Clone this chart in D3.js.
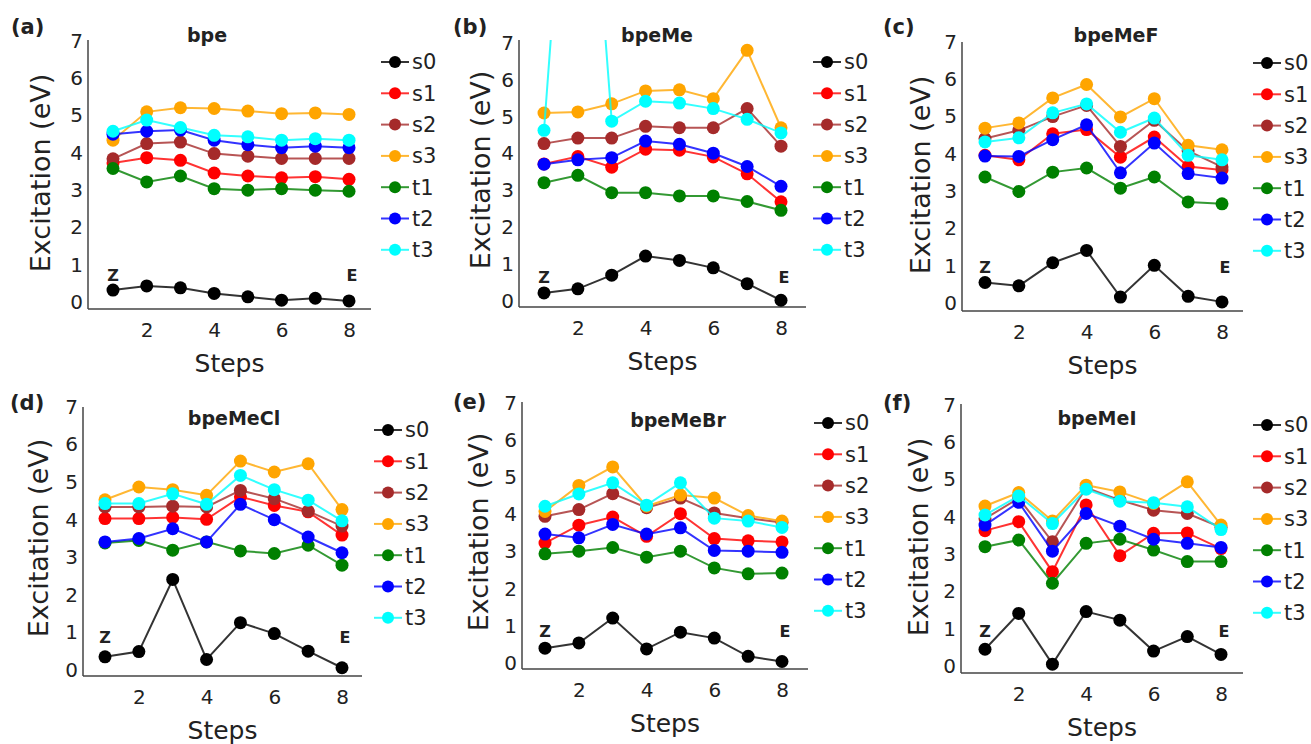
<!DOCTYPE html>
<html>
<head>
<meta charset="utf-8">
<script src="https://cdn.jsdelivr.net/npm/d3@7"></script>
<style>
  body { margin: 0; background: #fff; }
  svg text { font-family: "DejaVu Sans", Verdana, sans-serif; fill: #222; }
</style>
</head>
<body>
<div id="container"></div>
<script>
// data
const steps = [1, 2, 3, 4, 5, 6, 7, 8];
const seriesNames = ["s0", "s1", "s2", "s3", "t1", "t2", "t3"];
const seriesColors = ["#000000", "#ff0000", "#a52a2a", "#ffa500", "#008000", "#0000ff", "#00ffff"];
const panelTitles = ["bpe", "bpeMe", "bpeMeF", "bpeMeCl", "bpeMeBr", "bpeMeI"];
const panelTags = ["(a)", "(b)", "(c)", "(d)", "(e)", "(f)"];
const yTicks = [0, 1, 2, 3, 4, 5, 6, 7];
const xTicks = [2, 4, 6, 8];

// rows: s0, s1, s2, s3, t1, t2, t3
const bpe = [
  [0.32, 0.43, 0.38, 0.23, 0.14, 0.05, 0.10, 0.03],
  [3.73, 3.87, 3.80, 3.46, 3.38, 3.33, 3.36, 3.29],
  [3.84, 4.25, 4.29, 3.98, 3.91, 3.85, 3.85, 3.85],
  [4.34, 5.10, 5.21, 5.19, 5.12, 5.05, 5.07, 5.03],
  [3.58, 3.22, 3.38, 3.04, 3.00, 3.04, 3.00, 2.97],
  [4.50, 4.58, 4.61, 4.34, 4.22, 4.14, 4.18, 4.14],
  [4.58, 4.88, 4.68, 4.47, 4.43, 4.34, 4.38, 4.34]
];
const bpeMe = [
  [0.22, 0.33, 0.70, 1.22, 1.10, 0.90, 0.47, 0.02],
  [3.72, 3.92, 3.63, 4.12, 4.09, 3.91, 3.45, 2.69],
  [4.27, 4.42, 4.42, 4.74, 4.70, 4.70, 5.22, 4.20],
  [5.10, 5.13, 5.35, 5.70, 5.73, 5.49, 6.80, 4.70],
  [3.21, 3.41, 2.94, 2.94, 2.85, 2.85, 2.70, 2.46],
  [3.71, 3.83, 3.89, 4.34, 4.25, 4.01, 3.65, 3.11],
  [4.63, 17.0, 4.88, 5.42, 5.37, 5.22, 4.93, 4.56]
];
const bpeMeF = [
  [0.55, 0.46, 1.08, 1.41, 0.16, 1.01, 0.18, 0.03],
  [3.96, 3.84, 4.54, 4.65, 3.91, 4.45, 3.66, 3.57],
  [4.41, 4.63, 5.00, 5.30, 4.20, 4.90, 4.08, 3.65],
  [4.69, 4.83, 5.50, 5.86, 4.99, 5.48, 4.23, 4.11],
  [3.38, 2.99, 3.51, 3.62, 3.08, 3.38, 2.71, 2.66],
  [3.94, 3.93, 4.38, 4.78, 3.49, 4.29, 3.47, 3.35],
  [4.32, 4.43, 5.10, 5.34, 4.58, 4.96, 3.96, 3.84]
];
const bpeMeCl = [
  [0.35, 0.49, 2.41, 0.28, 1.26, 0.97, 0.50, 0.06],
  [4.03, 4.03, 4.06, 4.01, 4.61, 4.38, 4.21, 3.59],
  [4.34, 4.34, 4.36, 4.34, 4.78, 4.56, 4.23, 3.83],
  [4.53, 4.87, 4.80, 4.65, 5.56, 5.27, 5.49, 4.27],
  [3.38, 3.45, 3.19, 3.41, 3.17, 3.10, 3.32, 2.79],
  [3.41, 3.50, 3.76, 3.41, 4.41, 4.00, 3.54, 3.12],
  [4.43, 4.43, 4.69, 4.41, 5.18, 4.80, 4.52, 3.97]
];
const bpeMeBr = [
  [0.40, 0.54, 1.21, 0.38, 0.83, 0.67, 0.18, 0.04],
  [3.23, 3.71, 3.93, 3.41, 4.02, 3.35, 3.29, 3.26],
  [3.95, 4.13, 4.56, 4.18, 4.44, 4.04, 3.90, 3.78],
  [4.08, 4.78, 5.28, 4.22, 4.52, 4.44, 3.97, 3.82],
  [2.94, 3.01, 3.11, 2.85, 3.01, 2.56, 2.40, 2.42],
  [3.47, 3.37, 3.73, 3.47, 3.64, 3.03, 3.01, 2.98],
  [4.22, 4.55, 4.85, 4.25, 4.85, 3.90, 3.82, 3.65]
];
const bpeMeI = [
  [0.45, 1.41, 0.05, 1.46, 1.23, 0.40, 0.79, 0.31],
  [3.63, 3.87, 2.53, 4.32, 2.96, 3.56, 3.57, 3.15],
  [3.95, 4.50, 3.33, 4.78, 4.45, 4.18, 4.09, 3.72],
  [4.29, 4.65, 3.89, 4.85, 4.67, 4.36, 4.94, 3.78],
  [3.20, 3.38, 2.22, 3.29, 3.40, 3.11, 2.80, 2.80],
  [3.78, 4.39, 3.08, 4.09, 3.75, 3.40, 3.29, 3.18],
  [4.05, 4.56, 3.82, 4.74, 4.42, 4.38, 4.27, 3.66]
];
const panelData = [bpe, bpeMe, bpeMeF, bpeMeCl, bpeMeBr, bpeMeI];

// layout (pixels) for each panel
const layout = [
  {x1: 113, x8: 349, axL: 88,  axR: 371,  y0: 302, y7: 41,  axT: 40,  axB: 309, tx: 207,  ty: 42,  tagX: 11,  tagY: 34,  yl: 50,  ylc: 173, zy: 281, legX: 395,  legY: 62},
  {x1: 544, x8: 781, axL: 519, axR: 806,  y0: 301, y7: 43,  axT: 40,  axB: 307, tx: 657,  ty: 42,  tagX: 453, tagY: 34,  yl: 490, ylc: 170, zy: 283, legX: 827,  legY: 62},
  {x1: 985, x8: 1222, axL: 962, axR: 1243, y0: 303, y7: 42,  axT: 42,  axB: 311, tx: 1116, ty: 42,  tagX: 883, tagY: 34,  yl: 930, ylc: 175, zy: 273, legX: 1267, legY: 63},
  {x1: 105, x8: 342, axL: 83,  axR: 362,  y0: 670, y7: 407, axT: 407, axB: 676, tx: 234,  ty: 425, tagX: 10,  tagY: 410, yl: 48,  ylc: 538, zy: 643, legX: 388,  legY: 430},
  {x1: 545, x8: 782, axL: 522, axR: 808,  y0: 663, y7: 403, axT: 402, axB: 669, tx: 678,  ty: 427, tagX: 453, tagY: 409, yl: 488, ylc: 532, zy: 637, legX: 828,  legY: 423},
  {x1: 985, x8: 1221, axL: 961, axR: 1243, y0: 666, y7: 405, axT: 404, axB: 673, tx: 1097, ty: 425, tagX: 883, tagY: 410, yl: 928, ylc: 537, zy: 637, legX: 1267, legY: 425}
];

const W = 1311, H = 744;
const svg = d3.select("#container").append("svg").attr("width", W).attr("height", H);

panelData.forEach((rows, p) => {
  const L = layout[p];
  const g = svg.append("g");
  const x = d3.scaleLinear().domain([1, 8]).range([L.x1, L.x8]);
  const y = d3.scaleLinear().domain([0, 7]).range([L.y0, L.y7]);

  // axes lines
  g.append("line").attr("x1", L.axL).attr("x2", L.axL).attr("y1", L.axT).attr("y2", L.axB)
    .attr("stroke", "#444").attr("stroke-width", 1.5);
  g.append("line").attr("x1", L.axL).attr("x2", L.axR).attr("y1", L.axB).attr("y2", L.axB)
    .attr("stroke", "#444").attr("stroke-width", 1.5);

  const yAxis = d3.axisLeft(y).tickValues(yTicks).tickSize(0).tickPadding(5).tickFormat(d3.format("d"));
  const ya = g.append("g").attr("transform", `translate(${L.axL},0)`).call(yAxis);
  ya.select(".domain").remove();
  ya.selectAll("text").style("font-size", "20px").attr("fill", "#222");

  const xAxis = d3.axisBottom(x).tickValues(xTicks).tickSize(0).tickPadding(14).tickFormat(d3.format("d"));
  const xa = g.append("g").attr("transform", `translate(0,${L.axB})`).call(xAxis);
  xa.select(".domain").remove();
  xa.selectAll("text").style("font-size", "20px").attr("fill", "#222");

  g.append("text").attr("x", (L.axL + L.axR) / 2).attr("y", L.axB + 63)
    .attr("text-anchor", "middle").style("font-size", "25px").text("Steps");
  g.append("text").attr("transform", `translate(${L.yl},${L.ylc}) rotate(-90)`)
    .attr("text-anchor", "middle").style("font-size", "27px").text("Excitation (eV)");

  g.append("text").attr("x", L.tx).attr("y", L.ty).attr("text-anchor", "middle")
    .style("font-size", "19px").style("font-weight", "bold").text(panelTitles[p]);
  g.append("text").attr("x", L.tagX).attr("y", L.tagY)
    .style("font-size", "21px").style("font-weight", "bold").text(panelTags[p]);

  g.append("text").attr("x", x(1)).attr("y", L.zy).attr("text-anchor", "middle")
    .style("font-size", "16px").style("font-weight", "bold").text("Z");
  g.append("text").attr("x", x(8) + 3).attr("y", L.zy).attr("text-anchor", "middle")
    .style("font-size", "16px").style("font-weight", "bold").text("E");

  // clip
  const cid = "clip" + p;
  svg.append("clipPath").attr("id", cid).append("rect")
    .attr("x", L.axL).attr("y", L.axT).attr("width", L.axR - L.axL).attr("height", L.axB - L.axT);

  const line = d3.line().x((d, i) => x(steps[i])).y(d => y(d));
  const plot = g.append("g").attr("clip-path", `url(#${cid})`);
  rows.forEach((vals, s) => {
    plot.append("path").datum(vals).attr("d", line).attr("fill", "none")
      .attr("stroke", seriesColors[s]).attr("stroke-width", 2).attr("stroke-opacity", 0.8);
    plot.selectAll(null).data(vals).enter().append("circle")
      .attr("cx", (d, i) => x(steps[i])).attr("cy", d => y(d)).attr("r", 6.5)
      .attr("fill", seriesColors[s]);
  });

  // legend
  seriesNames.forEach((name, s) => {
    const ly = L.legY + s * 31.3;
    g.append("line").attr("x1", L.legX - 14).attr("x2", L.legX + 14).attr("y1", ly).attr("y2", ly)
      .attr("stroke", seriesColors[s]).attr("stroke-width", 2).attr("stroke-opacity", 0.8);
    g.append("circle").attr("cx", L.legX).attr("cy", ly).attr("r", 6).attr("fill", seriesColors[s]);
    g.append("text").attr("x", L.legX + 17).attr("y", ly).attr("dy", "0.35em")
      .style("font-size", "21px").text(name);
  });
});
</script>
</body>
</html>
